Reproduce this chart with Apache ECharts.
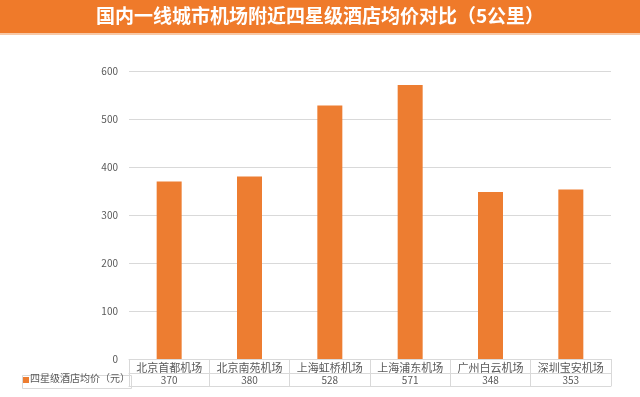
<!DOCTYPE html>
<html>
<head>
<meta charset="utf-8">
<script src="https://cdn.jsdelivr.net/npm/echarts@6/dist/echarts.min.js"></script>
<style>
html,body{margin:0;padding:0;background:#fff;}
#chart{width:640px;height:397px;}
</style>
</head>
<body>
<div id="chart"></div>
<script>
const titleText = '国内一线城市机场附近四星级酒店均价对比（5公里）'
const seriesName = '四星级酒店均价（元）'
const airports = ['北京首都机场','北京南苑机场','上海虹桥机场','上海浦东机场','广州白云机场','深圳宝安机场']
const prices = [370, 380, 528, 571, 348, 353]
const yTicks = [0, 100, 200, 300, 400, 500, 600]

const font = '"Noto Sans CJK SC", "Noto Sans", sans-serif'
const lineColor = '#d9d9d9'
const textColor = '#595959'
const orange = '#ED7D31'

const chart = echarts.init(document.getElementById('chart'))

const option = {
  backgroundColor: '#fff',
  animation: false,
  graphic: [
    // title banner
    {type:'rect', left:0, top:0, shape:{width:640, height:33}, style:{fill:'#EF7A2A'}},
    {type:'rect', left:0, top:33, shape:{width:640, height:2}, style:{fill:'#F7C9A8'}},
    {type:'text', left:'center', top:6, style:{text:titleText, fill:'#fff', font:'bold 19px ' + font}},
    // legend cell of the data table
    {type:'rect', left:20, top:373, shape:{width:109, height:13}, style:{fill:'none', stroke:lineColor, lineWidth:1}},
    {type:'rect', left:23, top:377, shape:{width:6, height:6}, style:{fill:orange}},
    {type:'text', left:30, top:373, style:{text:seriesName, fill:textColor, font:'10px ' + font}}
  ],
  grid: {left:129, right:29, top:71, bottom:38},
  xAxis: [
    {
      type:'category', data:airports, position:'bottom',
      axisLine:{lineStyle:{color:lineColor}},
      axisTick:{show:true, length:27, lineStyle:{color:lineColor}},
      axisLabel:{color:textColor, fontSize:11, fontFamily:font, margin:3, interval:0}
    },
    {
      type:'category', data:prices.map(String), position:'bottom', offset:14,
      axisLine:{show:true, lineStyle:{color:lineColor}},
      axisTick:{show:false},
      axisLabel:{color:textColor, fontSize:10, fontFamily:font, margin:2, interval:0}
    },
    {
      type:'category', data:airports, position:'bottom', offset:27,
      axisLine:{show:true, lineStyle:{color:lineColor}},
      axisTick:{show:false},
      axisLabel:{show:false}
    }
  ],
  yAxis: {
    type:'value', min:0, max:600, interval:100,
    axisLine:{show:false}, axisTick:{show:false},
    axisLabel:{color:textColor, fontSize:10, fontFamily:font, margin:11,
      formatter: v => yTicks.includes(v) ? String(v) : ''},
    splitLine:{lineStyle:{color:lineColor}}
  },
  series: [{
    name: seriesName, type:'bar', data:prices, barWidth:25,
    itemStyle:{color:orange}
  }]
}

chart.setOption(option)
</script>
</body>
</html>
